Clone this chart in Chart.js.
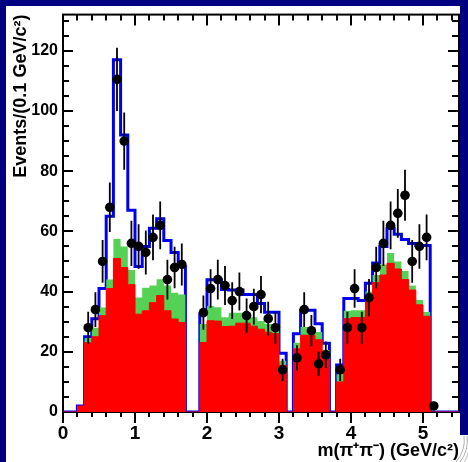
<!DOCTYPE html>
<html>
<head>
<meta charset="utf-8">
<script src="https://cdn.jsdelivr.net/npm/chart.js@4.4.1/dist/chart.umd.min.js"></script>
<style>
  html, body { margin: 0; padding: 0; }
  body { width: 468px; height: 462px; background: #000080; position: relative; overflow: hidden; }
  #pad { position: absolute; left: 6px; top: 6px; width: 462px; height: 456px; background: #fff; }
  #edge { position: absolute; left: 460px; top: 0; width: 8px; height: 435px; background: #000080; }
  #curl { position: absolute; left: 452px; top: 436px; }
  #wrap { position: absolute; left: 0; top: 0; width: 468px; height: 462px; }
</style>
</head>
<body>
<div id="pad"></div>
<div id="edge"></div>
<svg id="curl" width="16" height="26">
  <path d="M4 26 Q14 14 12 0" fill="none" stroke="#9a9a9a" stroke-width="0.8"/>
  <path d="M8 26 Q17 14 15 0" fill="none" stroke="#9a9a9a" stroke-width="0.8"/>
  <path d="M12 26 Q19 16 16 4" fill="none" stroke="#b0b0b0" stroke-width="0.8"/>
</svg>
<div id="wrap"><canvas id="c" width="468" height="462"></canvas></div>
<script>
// bins of 0.1 GeV/c^2, from 0 to 5.5
const binWidth = 0.1;
const nBins = 55;

// red component (stacked bottom)
const redVals = [0, 0, 2, 23, 25, 32, 41, 51, 48, 42.3,
  32.5, 33.6, 36.3, 38.7, 33.6, 30.9, 29.7, 0, 0, 23.1,
  30.3, 30.2, 28.4, 28.5, 29.5, 29.5, 28.5, 27.5, 26.5, 26,
  15.5, 0, 21, 25.5, 25.5, 24, 18, 0, 10, 31,
  31.4, 31.4, 37.5, 43, 45.5, 49.4, 47.5, 44, 40.5, 35.6,
  31.8, 0, 0, 0, 0];

// green component (stacked on red)
const greenVals = [0, 0, 0, 1.5, 3, 2.7, 3, 6.5, 7, 4.9,
  5.5, 7.7, 5.7, 5.4, 8.4, 8.7, 9.3, 0, 0, 6.1,
  4.9, 4.6, 3.1, 4.5, 3.5, 3, 3, 2.7, 2.7, 2,
  1.5, 0, 2, 2.7, 2.7, 2.6, 2.6, 0, 2.5, 2.6,
  2.4, 2.4, 2.5, 2.5, 3.5, 3.4, 2.5, 2.8, 1.5, 1.6,
  1.4, 0, 0, 0, 0];

// blue total expectation
const totalVals = [0, 0, 2, 25, 31, 41, 65, 117, 92, 67,
  48.3, 55, 61, 64.2, 57, 53, 48.3, 0, 0, 32.5,
  43.9, 43.9, 40.7, 40.5, 40.5, 39, 39, 36, 33.1, 33.1,
  19.5, 0, 26, 33.8, 33.8, 29.3, 22.8, 0, 15.6, 37.7,
  37.7, 37, 42.8, 49.5, 55, 61, 59, 57.3, 56, 55.3,
  55.3, 0, 0, 0, 0];

// data points and their errors (null = empty bin)
const dataVals = [null, null, null, 28, 34, 50, 68, 110.5, 90, 56,
  55, 53, 58, 62, 44, 48, 49, null, null, 33,
  41, 44, 42, 37, 40, 32, 35, 39, 31, 28,
  14, null, 18, 34, 27, 16, 19, null, 14, 28,
  41, 28, 38, 48, 56, 62, 66, 72, 50, 55,
  58, 2, null, null, null];
const dataErr = [0, 0, 0, 5.3, 5.8, 7.1, 8.2, 10.5, 9.5, 7.5,
  7.4, 7.3, 7.6, 7.9, 6.6, 6.9, 7.0, 0, 0, 5.7,
  6.4, 6.6, 6.5, 6.1, 6.3, 5.7, 5.9, 6.2, 5.6, 5.3,
  3.7, 0, 4.2, 5.8, 5.2, 4.0, 4.4, 0, 3.7, 5.3,
  6.4, 5.3, 6.2, 6.9, 7.5, 7.9, 8.1, 8.5, 7.1, 7.4,
  7.6, 1.4, 0, 0, 0];

const xTicks = [0, 1, 2, 3, 4, 5];
const yTicks = [0, 20, 40, 60, 80, 100, 120];

const FONT = "'Liberation Sans', Arial, Helvetica, sans-serif";

// step points: one at each low edge, plus the upper edge of the last bin
function steps(vals) {
  const pts = vals.map((v, i) => ({ x: i * binWidth, y: v }));
  pts.push({ x: nBins * binWidth, y: vals[nBins - 1] });
  return pts;
}

const greenTop = redVals.map((v, i) => v + greenVals[i]);

const points = [];
dataVals.forEach((v, i) => {
  if (v !== null) points.push({ x: (i + 0.5) * binWidth, y: v });
});

const frameTicks = {
  id: 'frameTicks',
  beforeDatasetsDraw(chart) {
    const { ctx, chartArea: a, scales: { x, y } } = chart;
    ctx.save();
    ctx.strokeStyle = '#000';
    ctx.lineWidth = 2;
    ctx.strokeRect(a.left, a.top, a.right - a.left, a.bottom - a.top);
    ctx.beginPath();
    for (let k = 0; k <= 27; k++) {
      const px = Math.round(x.getPixelForValue(k * 0.2));
      const major = k % 5 === 0;
      ctx.moveTo(px, a.bottom);
      ctx.lineTo(px, a.bottom + (major ? 11 : 5));
      ctx.moveTo(px, a.top);
      ctx.lineTo(px, a.top + (major ? 11 : 6));
    }
    for (let v = 0; v <= 130; v += 5) {
      const py = Math.round(y.getPixelForValue(v));
      const major = v % 20 === 0;
      ctx.moveTo(a.left, py);
      ctx.lineTo(a.left + (major ? 10 : 6), py);
      ctx.moveTo(a.right, py);
      ctx.lineTo(a.right - (major ? 11 : 7), py);
    }
    ctx.stroke();
    ctx.restore();
  },
  afterDatasetsDraw(chart) {
    const { ctx, scales: { x, y } } = chart;
    ctx.save();
    ctx.strokeStyle = '#000';
    ctx.lineWidth = 1.8;
    ctx.beginPath();
    dataVals.forEach((v, i) => {
      if (v === null) return;
      const px = x.getPixelForValue((i + 0.5) * binWidth);
      ctx.moveTo(px, y.getPixelForValue(v - dataErr[i]));
      ctx.lineTo(px, y.getPixelForValue(v + dataErr[i]));
    });
    ctx.stroke();
    ctx.restore();
  }
};

new Chart(document.getElementById('c'), {
  type: 'line',
  data: {
    datasets: [
      {
        label: 'data',
        data: points,
        showLine: false,
        pointRadius: 4.8,
        pointBackgroundColor: '#000',
        pointBorderWidth: 0,
        order: 1
      },
      {
        label: 'red',
        data: steps(redVals),
        stepped: 'before',
        borderColor: '#ff0000',
        borderWidth: 1,
        backgroundColor: '#ff0000',
        fill: 'origin',
        pointRadius: 0,
        clip: 0,
        order: 2
      },
      {
        label: 'green',
        data: steps(greenTop),
        stepped: 'before',
        borderWidth: 0,
        borderColor: 'rgba(0,0,0,0)',
        backgroundColor: '#55d155',
        fill: 'origin',
        pointRadius: 0,
        clip: 0,
        order: 3
      },
      {
        label: 'total',
        data: steps(totalVals),
        stepped: 'before',
        borderColor: '#0000ee',
        borderWidth: 3,
        borderJoinStyle: 'miter',
        fill: false,
        pointRadius: 0,
        clip: 0,
        order: 4
      }
    ]
  },
  options: {
    responsive: false,
    animation: false,
    events: [],
    layout: { padding: { top: 7, right: 9, left: 0, bottom: 0 } },
    plugins: { legend: { display: false }, tooltip: { enabled: false } },
    scales: {
      x: {
        type: 'linear',
        min: 0,
        max: 5.5,
        afterFit(s) { s.height = 50; },
        afterBuildTicks(s) { s.ticks = xTicks.map(v => ({ value: v })); },
        grid: { display: false, drawTicks: false },
        border: { display: false },
        ticks: {
          autoSkip: false,
          maxRotation: 0,
          padding: 10,
          color: '#000',
          font: { family: FONT, size: 19, weight: 'bold' }
        },
        title: {
          display: true,
          text: 'm(π⁺π⁻) (GeV/c²)',
          align: 'end',
          color: '#000',
          padding: { top: 0, bottom: 2 },
          font: { family: FONT, size: 18, weight: 'bold', lineHeight: 1 }
        }
      },
      y: {
        type: 'linear',
        min: 0,
        max: 132,
        afterFit(s) { s.width = 63; },
        afterBuildTicks(s) { s.ticks = yTicks.map(v => ({ value: v })); },
        grid: { display: false, drawTicks: false },
        border: { display: false },
        ticks: {
          padding: 5,
          color: '#000',
          font: { family: FONT, size: 16, weight: 'bold' }
        },
        title: {
          display: true,
          text: 'Events/(0.1 GeV/c²)',
          align: 'end',
          color: '#000',
          padding: { top: 12, bottom: 0 },
          font: { family: FONT, size: 18, weight: 'bold', lineHeight: 1 }
        }
      }
    }
  },
  plugins: [frameTicks]
});
</script>
</body>
</html>
